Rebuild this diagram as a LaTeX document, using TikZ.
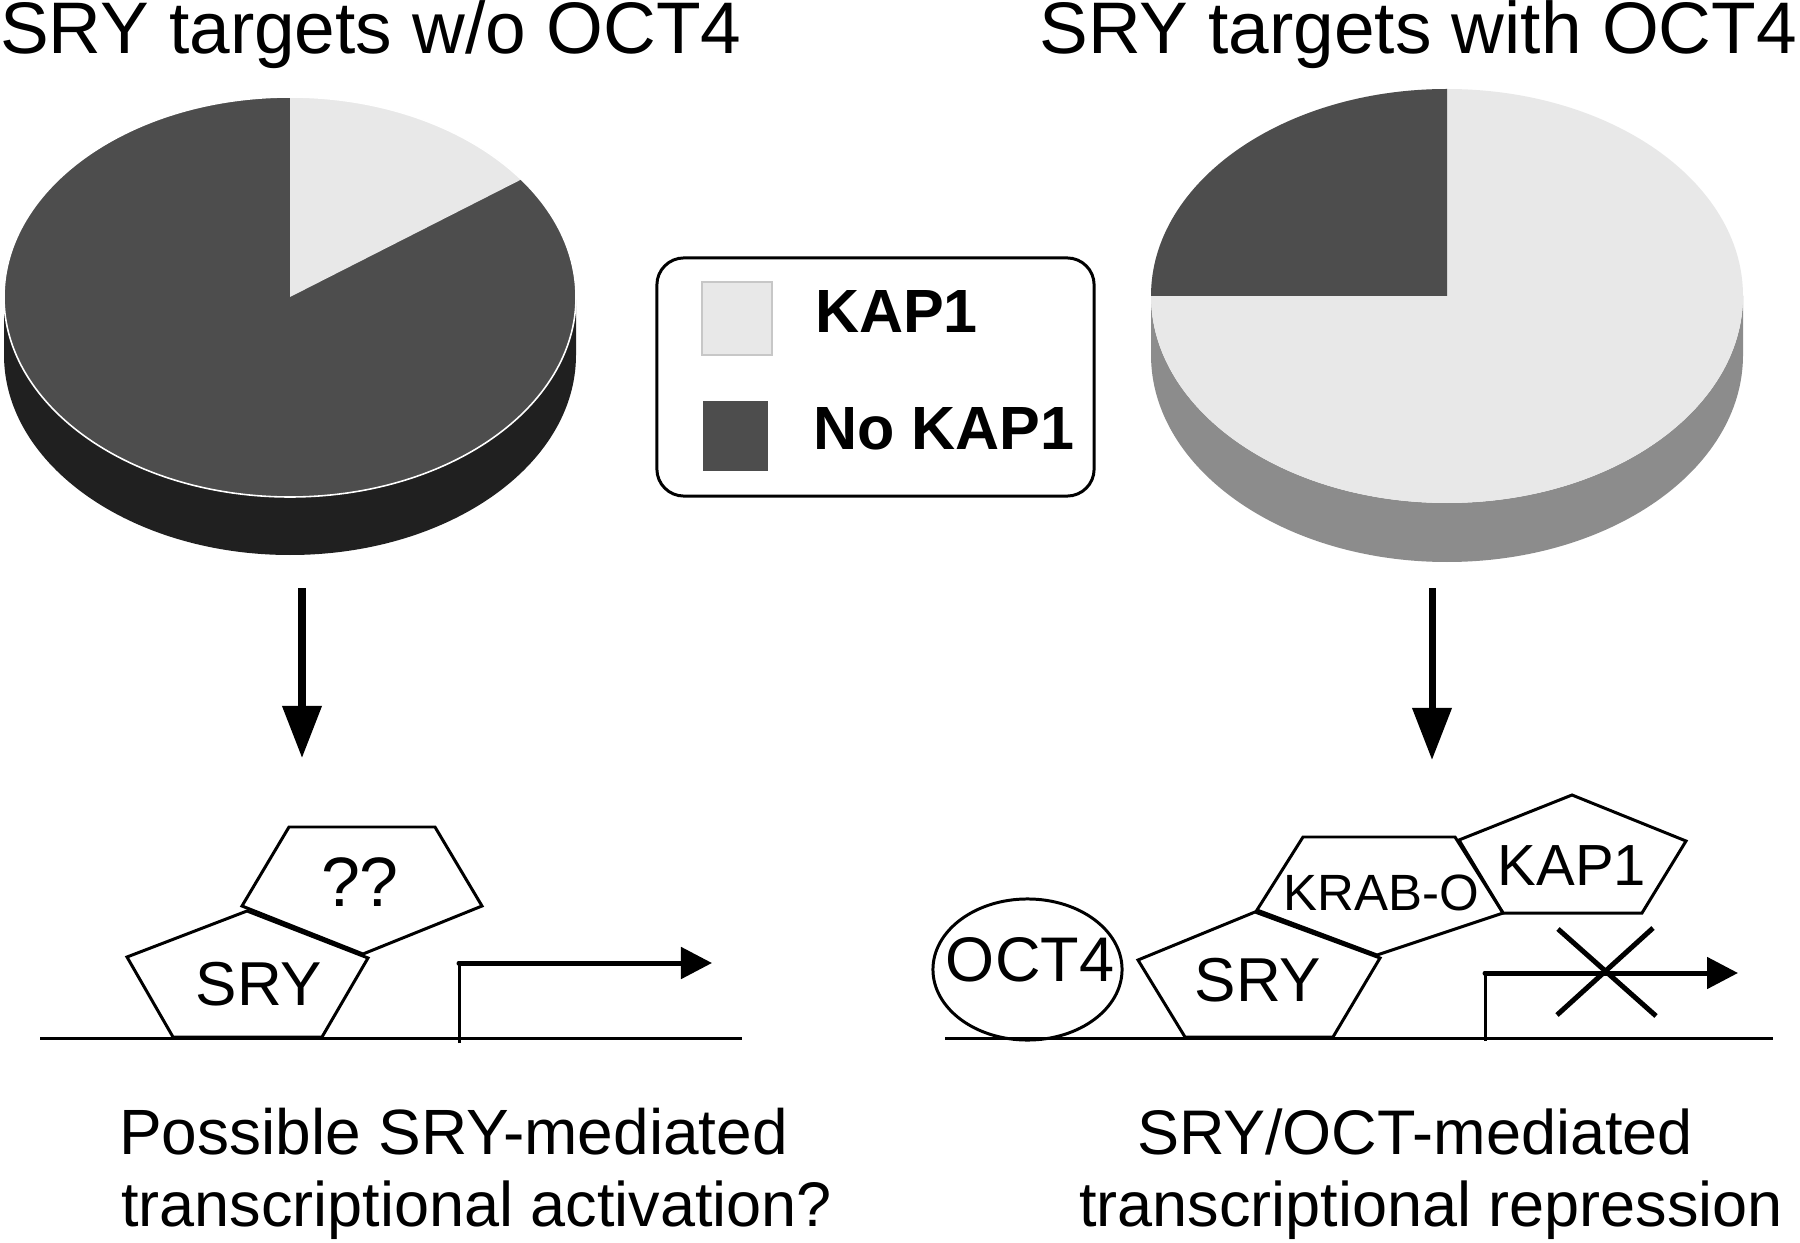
\documentclass[tikz,border=0pt]{standalone}
\usepackage{fontspec}
\setmainfont{Liberation Sans}
\usetikzlibrary{arrows.meta,shapes.geometric}
\definecolor{pielight}{HTML}{E8E8E8}
\definecolor{piedark}{HTML}{4D4D4D}
\definecolor{sidedark}{HTML}{202020}
\definecolor{sidegray}{HTML}{8C8C8C}
\tikzset{
  txt/.style={inner sep=0pt, outer sep=0pt},
  titletxt/.style={txt, font=\fontsize{20.77}{24}\selectfont},
  legtxt/.style={txt, anchor=base west, font=\fontsize{17.36}{20}\selectfont\bfseries},
  captxt/.style={txt, anchor=base west, font=\fontsize{17.92}{21}\selectfont},
  protein/.style={draw=black, line width=0.85pt, line join=miter},
  bigarrow/.style={line width=2pt, -{Triangle[length=5.2mm,width=3.8mm]}},
  promarrow/.style={line width=1.42pt, line cap=round, -{Triangle[length=3.1mm,width=3.1mm]}},
  dna/.style={line width=0.85pt},
}
\begin{document}
\begin{tikzpicture}[x=0.01cm,y=0.01cm]
\useasboundingbox (0,0) rectangle (1800,-1243);
\fill[white] (0,0) rectangle (1800,-1243);

% titles
\node[titletxt, anchor=base west] (titleL) at (0,-54) {SRY targets w/o OCT4};
\node[titletxt, anchor=base east] (titleR) at (1797,-54) {SRY targets with OCT4};

% left pie
\fill[sidedark] (4,-297) -- (4,-355) arc[start angle=180,end angle=360,x radius=286,y radius=200] -- (576,-297) arc[start angle=0,end angle=-180,x radius=286,y radius=200] -- cycle;
\fill[piedark] (290,-297) ellipse[x radius=286,y radius=200];
\fill[pielight] (290,-297) -- (521.4,-179.4) arc[start angle=36,end angle=90,x radius=286,y radius=200] -- cycle;
\draw[white, line width=0.45pt] (290,-297) ellipse[x radius=286,y radius=200];

% right pie
\fill[sidegray] (1151,-296) -- (1151,-355) arc[start angle=180,end angle=360,x radius=296,y radius=207] -- (1743,-296) arc[start angle=0,end angle=-180,x radius=296,y radius=207] -- cycle;
\fill[pielight] (1447,-296) ellipse[x radius=296,y radius=207];
\fill[piedark] (1447,-296) -- (1447,-89) arc[start angle=90,end angle=180,x radius=296,y radius=207] -- cycle;

% legend
\node[draw, line width=0.85pt, rounded corners=0.27cm, minimum width=4.37cm, minimum height=2.38cm, inner sep=0pt] (legend) at (875.5,-377) {};
\filldraw[fill=pielight, draw=black!22, line width=0.3pt] (702,-282) rectangle (772,-355);
\fill[piedark] (703,-401) rectangle (768,-471);
\node[legtxt] (legK) at (815,-333) {KAP1};
\node[legtxt] (legN) at (813,-449) {No KAP1};

% arrows
\coordinate (aLs) at (302,-588);
\coordinate (aLe) at (302,-758);
\coordinate (aRs) at (1432,-588);
\coordinate (aRe) at (1432,-760);
\draw[bigarrow] (aLs) -- (aLe);
\draw[bigarrow] (aRs) -- (aRe);

% left scheme
\draw[dna] (40,-1038) -- (742,-1038);
\draw[protein] (173,-1037) -- (322,-1037) -- (368,-958) -- (247,-911) -- (127,-957) -- cycle;
\draw[protein] (289,-827) -- (435,-827) -- (482,-906) -- (363,-954) -- (242,-906) -- cycle;
\node[txt, font=\fontsize{17.64}{20}\selectfont] (sryL) at (259,-984) {SRY};
\node[txt, font=\fontsize{19.9}{22}\selectfont] (qq) at (360,-882) {??};
\coordinate (pLb) at (459,-1043);
\coordinate (pLc) at (459,-963);
\coordinate (pLt) at (712,-963);
\draw[line width=0.85pt] (pLb) -- (pLc);
\draw[promarrow] (pLc) -- (pLt);

% right scheme
\draw[dna] (945,-1038) -- (1773,-1038);
\node[draw, ellipse, line width=0.85pt, minimum width=1.89cm, minimum height=1.41cm, inner sep=0pt] (octE) at (1027.5,-969.5) {};
\node[txt, font=\fontsize{17.92}{20}\selectfont] (oct) at (1030,-960) {OCT4};
\draw[protein] (1185,-1037) -- (1333,-1037) -- (1380,-958) -- (1255,-912) -- (1138,-960) -- cycle;
\draw[protein] (1303,-837) -- (1455,-837) -- (1503,-913) -- (1377,-955) -- (1257,-910) -- cycle;
\draw[protein] (1572,-795) -- (1686,-841) -- (1642,-913) -- (1503,-913) -- (1459,-840) -- cycle;
\node[txt, font=\fontsize{17.64}{20}\selectfont] (sryR) at (1258,-980) {SRY};
\node[txt, font=\fontsize{14.5}{17}\selectfont] (krab) at (1381,-893) {KRAB-O};
\node[txt, font=\fontsize{16.5}{19}\selectfont] (kap) at (1572,-866) {KAP1};
\coordinate (pRb) at (1485,-1041);
\coordinate (pRc) at (1485,-973);
\coordinate (pRt) at (1738,-973);
\draw[line width=0.85pt] (pRb) -- (pRc);
\draw[promarrow] (pRc) -- (pRt);
\coordinate (x1) at (1558,-929);
\coordinate (x2) at (1656,-1016);
\coordinate (x3) at (1653,-928);
\coordinate (x4) at (1557,-1015);
\draw[line width=1.42pt] (x1) -- (x2);
\draw[line width=1.42pt] (x3) -- (x4);

% captions
\node[captxt, font=\fontsize{18.2}{21}\selectfont] (capL1) at (119,-1154) {Possible SRY-mediated};
\node[captxt] (capL2) at (121,-1226) {transcriptional activation?};
\node[captxt] (capR1) at (1137,-1154) {SRY/OCT-mediated};
\node[captxt] (capR2) at (1079,-1226) {transcriptional repression};
\end{tikzpicture}
\end{document}
